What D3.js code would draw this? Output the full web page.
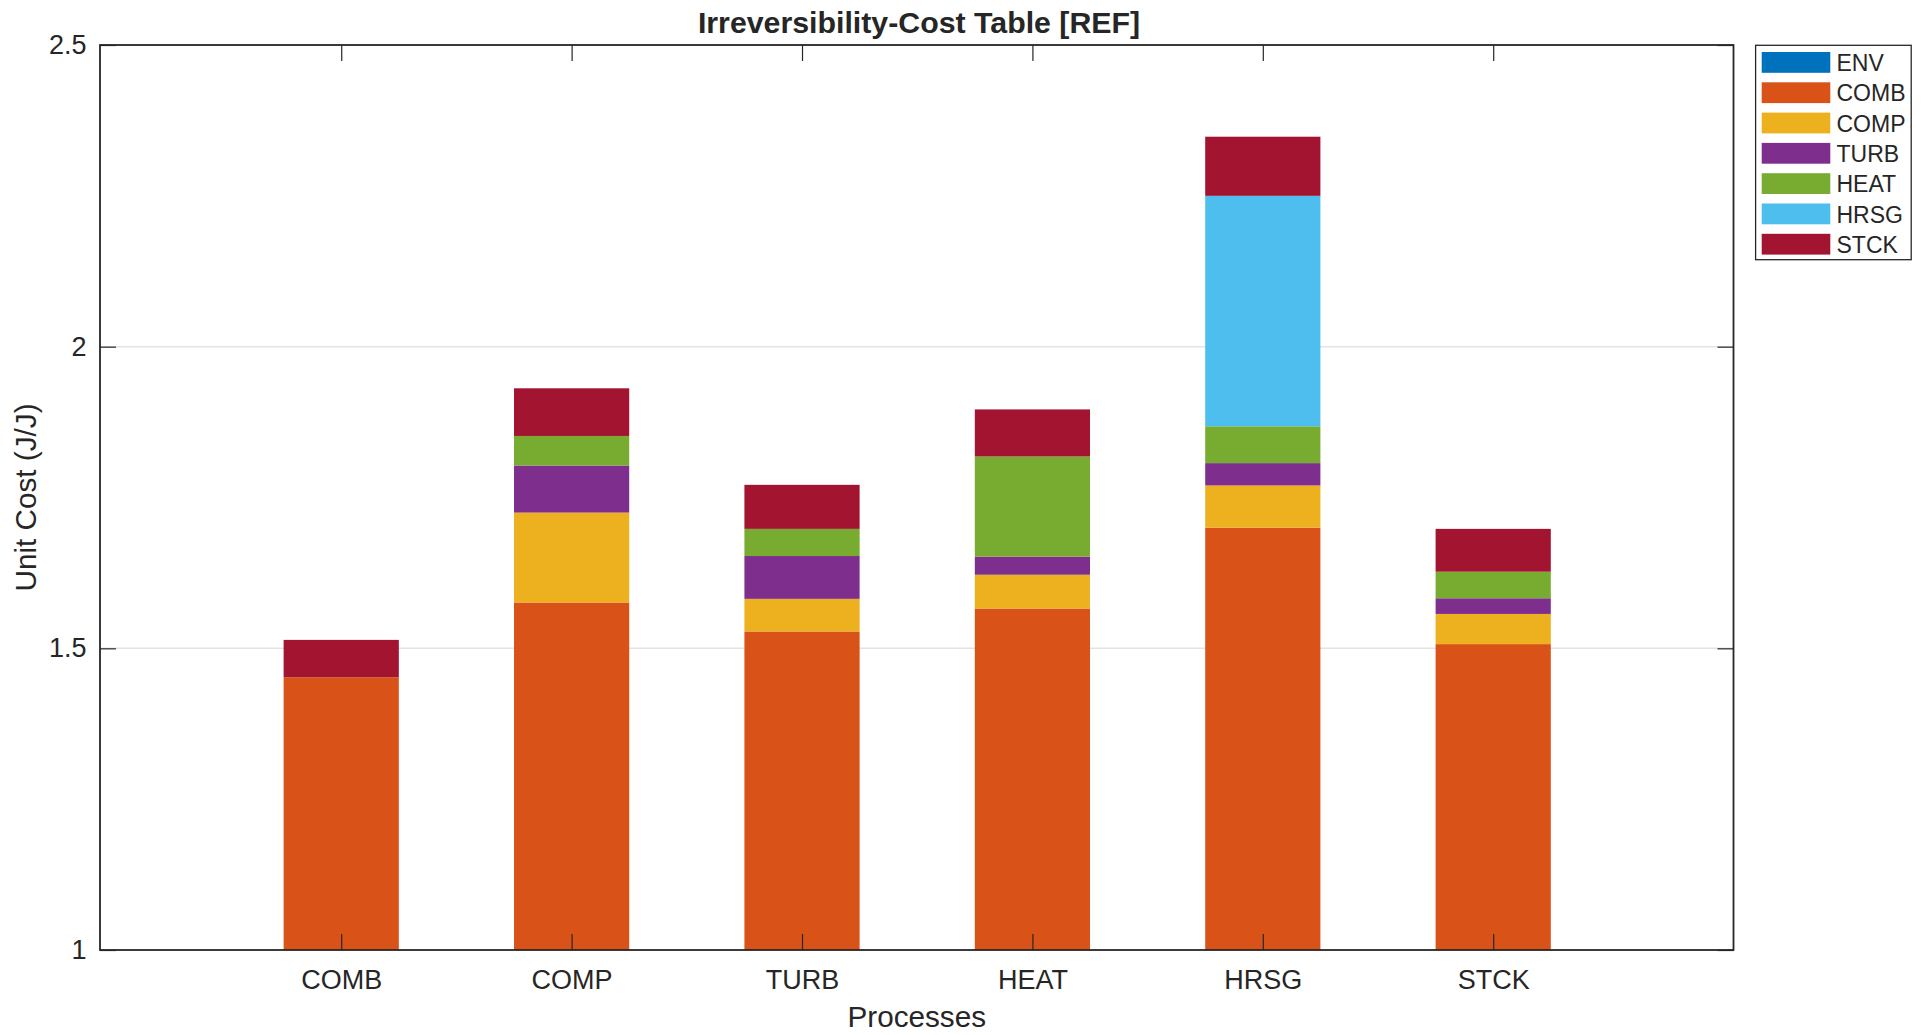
<!DOCTYPE html>
<html>
<head>
<meta charset="utf-8">
<script src="https://cdnjs.cloudflare.com/ajax/libs/d3/7.8.5/d3.min.js"></script>
<style>
  html, body { margin: 0; padding: 0; background: #ffffff; }
  svg { display: block; }
  text { font-family: "Liberation Sans", Arial, Helvetica, sans-serif; fill: #262626; }
</style>
</head>
<body>
<svg id="chart" width="1921" height="1035"></svg>
<script>
// ---------------- data ----------------
const categories = ["COMB", "COMP", "TURB", "HEAT", "HRSG", "STCK"];
const seriesNames = ["ENV", "COMB", "COMP", "TURB", "HEAT", "HRSG", "STCK"];
const envValues  = [1.000, 1.000, 1.000, 1.000, 1.000, 1.000];
const combValues = [0.452, 0.576, 0.528, 0.566, 0.700, 0.507];
const compValues = [0.000, 0.149, 0.054, 0.056, 0.070, 0.050];
const turbValues = [0.000, 0.078, 0.071, 0.030, 0.037, 0.026];
const heatValues = [0.000, 0.049, 0.045, 0.166, 0.061, 0.044];
const hrsgValues = [0.000, 0.000, 0.000, 0.000, 0.382, 0.000];
const stckValues = [0.062, 0.079, 0.073, 0.078, 0.098, 0.071];
const yTickValues = [1, 1.5, 2, 2.5];
const seriesColors = ["#0072BD", "#D95319", "#EDB120", "#7E2F8E", "#77AC30", "#4DBEEE", "#A2142F"];

const titleText = "Irreversibility-Cost Table [REF]";
const xLabelText = "Processes";
const yLabelText = "Unit Cost (J/J)";

// ---------------- layout ----------------
const svg = d3.select("#chart");
const plot = { left: 100, right: 1733.5, top: 45, bottom: 950 };
const axisColor = "#262626";
const tickLen = 16;

const seriesValues = [envValues, combValues, compValues, turbValues, heatValues, hrsgValues, stckValues];
const table = categories.map((c, i) => {
  const row = { cat: c, pos: i + 1 };
  seriesNames.forEach((s, j) => { row[s] = seriesValues[j][i]; });
  return row;
});
const stacked = d3.stack().keys(seriesNames)(table);

const x = d3.scaleLinear().domain([-0.047, 7.043]).range([plot.left, plot.right]);
const y = d3.scaleLinear().domain([1, 2.5]).range([plot.bottom, plot.top]);
const barWidthUnits = 0.5;

// clip
svg.append("defs").append("clipPath").attr("id", "plotclip")
  .append("rect")
  .attr("x", plot.left).attr("y", plot.top)
  .attr("width", plot.right - plot.left).attr("height", plot.bottom - plot.top);

// background
svg.append("rect")
  .attr("x", plot.left).attr("y", plot.top)
  .attr("width", plot.right - plot.left).attr("height", plot.bottom - plot.top)
  .attr("fill", "#ffffff");

// gridlines
svg.append("g").selectAll("line")
  .data(yTickValues.filter(v => v > 1 && v < 2.5))
  .join("line")
  .attr("x1", plot.left).attr("x2", plot.right)
  .attr("y1", d => y(d)).attr("y2", d => y(d))
  .attr("stroke", "#e3e3e3").attr("stroke-width", 1.5);

// bars
const barsG = svg.append("g").attr("clip-path", "url(#plotclip)");
stacked.forEach((layer, j) => {
  barsG.append("g").attr("fill", seriesColors[j])
    .selectAll("rect")
    .data(layer.filter(d => d[1] - d[0] > 0))
    .join("rect")
    .attr("x", d => x(d.data.pos - barWidthUnits / 2))
    .attr("width", d => x(d.data.pos + barWidthUnits / 2) - x(d.data.pos - barWidthUnits / 2))
    .attr("y", d => y(d[1]))
    .attr("height", d => y(d[0]) - y(d[1]));
});

// axes
const fmt = d3.format("~g");
const xAxis = d3.axisBottom(x).tickValues(categories.map((c, i) => i + 1))
  .tickFormat((d, i) => categories[i]).tickSizeInner(-tickLen).tickSizeOuter(0).tickPadding(20);
const gx = svg.append("g").attr("transform", `translate(0,${plot.bottom})`).call(xAxis);
gx.select(".domain").remove();
gx.selectAll(".tick line").attr("stroke", axisColor).attr("stroke-width", 1.2);
gx.selectAll(".tick text").attr("font-size", 27).attr("fill", axisColor)
  .style("font-family", "'Liberation Sans', Arial, Helvetica, sans-serif");

const xAxisTop = d3.axisTop(x).tickValues(categories.map((c, i) => i + 1))
  .tickFormat("").tickSizeInner(-tickLen).tickSizeOuter(0);
const gxt = svg.append("g").attr("transform", `translate(0,${plot.top})`).call(xAxisTop);
gxt.select(".domain").remove();
gxt.selectAll(".tick line").attr("stroke", axisColor).attr("stroke-width", 1.2);

const yAxis = d3.axisLeft(y).tickValues(yTickValues).tickFormat(fmt)
  .tickSizeInner(-tickLen).tickSizeOuter(0).tickPadding(13.5);
const gy = svg.append("g").attr("transform", `translate(${plot.left},0)`).call(yAxis);
gy.select(".domain").remove();
gy.selectAll(".tick line").attr("stroke", axisColor).attr("stroke-width", 1.2);
gy.selectAll(".tick text").attr("font-size", 27).attr("fill", axisColor)
  .style("font-family", "'Liberation Sans', Arial, Helvetica, sans-serif");

const yAxisRight = d3.axisRight(y).tickValues(yTickValues).tickFormat("")
  .tickSizeInner(-tickLen).tickSizeOuter(0);
const gyr = svg.append("g").attr("transform", `translate(${plot.right},0)`).call(yAxisRight);
gyr.select(".domain").remove();
gyr.selectAll(".tick line").attr("stroke", axisColor).attr("stroke-width", 1.2);

// frame
svg.append("rect")
  .attr("x", plot.left).attr("y", plot.top)
  .attr("width", plot.right - plot.left).attr("height", plot.bottom - plot.top)
  .attr("fill", "none").attr("stroke", axisColor).attr("stroke-width", 1.8);

// title & labels
svg.append("text")
  .attr("x", 919).attr("y", 33)
  .attr("text-anchor", "middle").attr("font-size", 30.3).attr("font-weight", "bold")
  .attr("fill", "#000000")
  .text(titleText);

svg.append("text")
  .attr("x", (plot.left + plot.right) / 2).attr("y", 1027)
  .attr("text-anchor", "middle").attr("font-size", 29.7)
  .text(xLabelText);

svg.append("text")
  .attr("transform", `translate(36,${(plot.top + plot.bottom) / 2}) rotate(-90)`)
  .attr("text-anchor", "middle").attr("font-size", 29.7)
  .text(yLabelText);

// legend
const legend = { x: 1755.6, y: 45.3, w: 155.6, h: 214.4 };
const lg = svg.append("g");
lg.append("rect")
  .attr("x", legend.x).attr("y", legend.y).attr("width", legend.w).attr("height", legend.h)
  .attr("fill", "#ffffff").attr("stroke", axisColor).attr("stroke-width", 1.3);
const entry = lg.selectAll("g.entry").data(seriesNames).join("g").attr("class", "entry")
  .attr("transform", (d, i) => `translate(0,${62.4 + i * 30.3})`);
entry.append("rect")
  .attr("x", 1761.7).attr("y", -10.4).attr("width", 68.6).attr("height", 20.8)
  .attr("fill", (d, i) => seriesColors[i]);
entry.append("text")
  .attr("x", 1836.5).attr("y", 0).attr("dy", "0.38em")
  .attr("font-size", 23).attr("fill", "#000000")
  .text(d => d);
</script>
</body>
</html>
